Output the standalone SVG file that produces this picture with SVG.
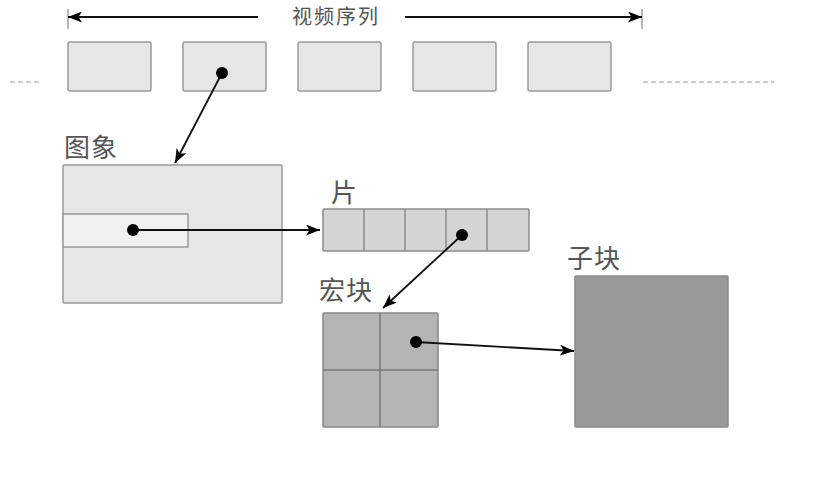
<svg xmlns="http://www.w3.org/2000/svg" width="816" height="484" viewBox="0 0 816 484">
<style>
.frame{fill:#e6e6e6;stroke:#9a9a9a;stroke-width:1.5}
.lbl{font-family:"Noto Sans CJK SC","Liberation Serif",sans-serif;fill:#555;}
.big{font-size:26px;letter-spacing:1px}
.conn{stroke:#111;stroke-width:1.8;fill:none}
.dot{fill:#000}
.dash{stroke:#999;stroke-width:1.2;stroke-dasharray:5 3}
</style>
<defs>
<marker id="ah" viewBox="0 0 14 11" refX="14" refY="5.5" markerWidth="14" markerHeight="11" markerUnits="userSpaceOnUse" orient="auto">
<path d="M0,0 L14,5.5 L0,11 L3.5,5.5 Z" fill="#000"/>
</marker>
</defs>
<rect width="816" height="484" fill="#fff"/>
<g id="sequence">
<line x1="68" y1="9" x2="68" y2="29" stroke="#888" stroke-width="1.2"/>
<line x1="642" y1="9" x2="642" y2="29" stroke="#888" stroke-width="1.2"/>
<line class="conn" x1="258" y1="17" x2="68" y2="17" marker-end="url(#ah)"/>
<line class="conn" x1="405" y1="17" x2="642" y2="17" marker-end="url(#ah)"/>
<text class="lbl" x="292" y="24" font-size="20" letter-spacing="2">视频序列</text>
<line class="dash" x1="10" y1="82" x2="42" y2="82"/>
<line class="dash" x1="643" y1="82" x2="774" y2="82"/>
</g>
<g id="frame1"><rect class="frame" x="68" y="42" width="83" height="49" rx="2"/></g>
<g id="frame2"><rect class="frame" x="183" y="42" width="83" height="49" rx="2"/></g>
<g id="frame3"><rect class="frame" x="298" y="42" width="83" height="49" rx="2"/></g>
<g id="frame4"><rect class="frame" x="413" y="42" width="83" height="49" rx="2"/></g>
<g id="frame5"><rect class="frame" x="528" y="42" width="83" height="49" rx="2"/></g>
<g id="picture">
<text class="lbl big" x="64" y="157">图象</text>
<rect x="63" y="165" width="219" height="138" fill="#e6e6e6" stroke="#9a9a9a" stroke-width="1.5" rx="1"/>
<rect x="63" y="214" width="125" height="33" fill="#f0f0f0" stroke="#9a9a9a" stroke-width="1.5"/>
</g>
<g id="slice">
<text class="lbl big" x="331" y="202">片</text>
<rect x="323" y="209" width="206" height="42" fill="#d4d4d4" stroke="#8c8c8c" stroke-width="1.5" rx="1"/>
<path d="M364,209V251M405,209V251M446,209V251M487,209V251" stroke="#8c8c8c" stroke-width="1.5"/>
</g>
<g id="macroblock">
<text class="lbl big" x="319" y="300">宏块</text>
<rect x="323" y="313" width="115" height="114" fill="#b4b4b4" stroke="#888" stroke-width="1.5" rx="1"/>
<path d="M380,313V427M323,370H438" stroke="#777" stroke-width="1.5"/>
</g>
<g id="subblock">
<text class="lbl big" x="567" y="268">子块</text>
<rect x="575" y="276" width="153" height="151" fill="#999" stroke="#8a8a8a" stroke-width="1.5" rx="1"/>
</g>
<g id="connectors">
<line class="conn" x1="222" y1="73" x2="175" y2="163" marker-end="url(#ah)"/>
<line class="conn" x1="133" y1="230" x2="320" y2="230" marker-end="url(#ah)"/>
<line class="conn" x1="462" y1="235" x2="383" y2="308" marker-end="url(#ah)"/>
<line class="conn" x1="416" y1="342" x2="574" y2="351" marker-end="url(#ah)"/>
<circle class="dot" cx="222" cy="73" r="6"/>
<circle class="dot" cx="133" cy="230" r="6"/>
<circle class="dot" cx="462" cy="235" r="6"/>
<circle class="dot" cx="416" cy="342" r="6"/>
</g>
</svg>
